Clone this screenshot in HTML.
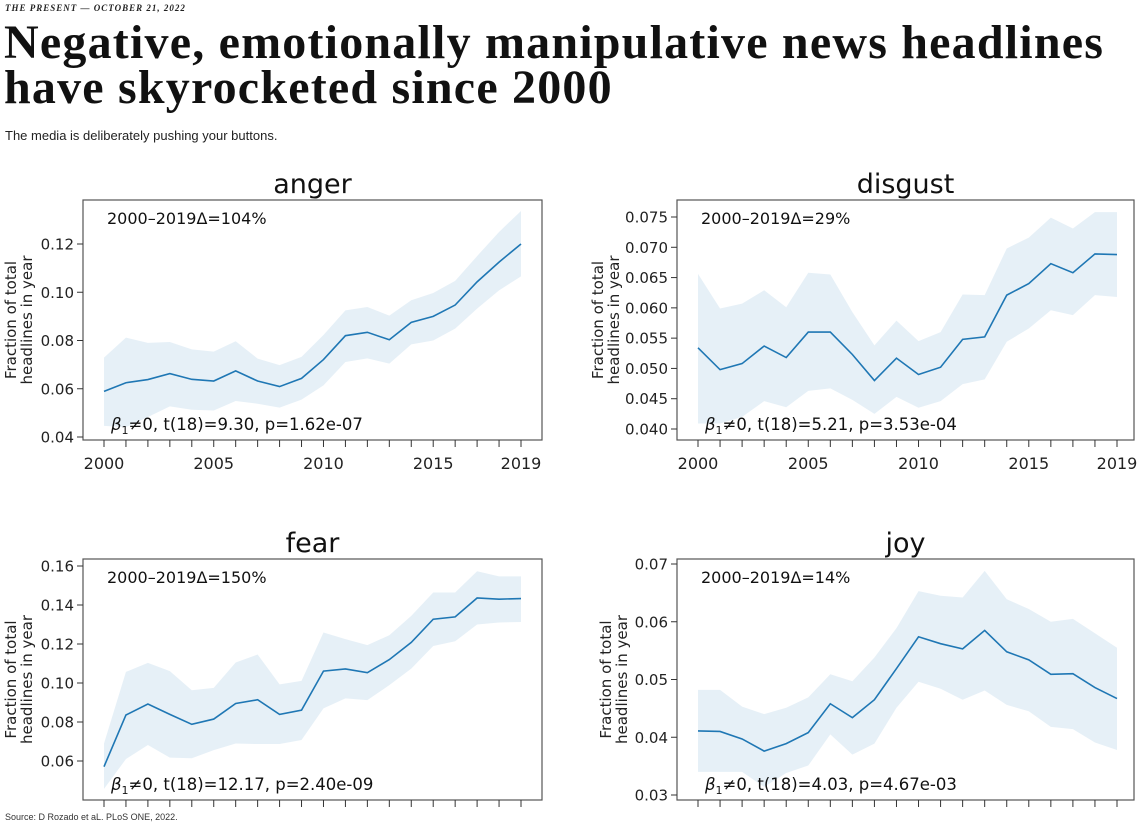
<!DOCTYPE html>
<html><head><meta charset="utf-8">
<style>
body{margin:0;width:1139px;height:824px;background:#fff;overflow:hidden;position:relative;font-family:"Liberation Sans",sans-serif}
#kicker{position:absolute;left:5px;top:3px;font:italic bold 9px "Liberation Serif",serif;letter-spacing:1px;color:#222}
#title{position:absolute;left:4px;top:20px;font:bold 48px/45px "Liberation Serif",serif;color:#111;letter-spacing:1.2px;white-space:nowrap}
#sub{position:absolute;left:5px;top:128px;font-size:13px;color:#222}
#src{position:absolute;left:5px;top:812px;font-size:9px;color:#333}
svg{position:absolute;left:0;top:0}
</style></head><body>
<div id="kicker">THE PRESENT — OCTOBER 21, 2022</div>
<div id="title">Negative, emotionally manipulative news headlines<br>have skyrocketed since 2000</div>
<div id="sub">The media is deliberately pushing your buttons.</div>
<div id="src">Source: D Rozado et aL. PLoS ONE, 2022.</div>
<svg id="chart" width="1139" height="824"></svg>
<script>
const years=[2000,2001,2002,2003,2004,2005,2006,2007,2008,2009,2010,2011,2012,2013,2014,2015,2016,2017,2018,2019];
const angerMean=[0.0589,0.0625,0.0638,0.0663,0.0639,0.0632,0.0674,0.0632,0.0609,0.0643,0.0721,0.082,0.0834,0.0803,0.0875,0.09,0.0947,0.1043,0.1125,0.12];
const angerHi=[0.0729,0.0812,0.079,0.0794,0.0763,0.0754,0.0797,0.0725,0.0698,0.0732,0.0823,0.0925,0.0939,0.0903,0.0967,0.0997,0.1047,0.115,0.125,0.1337];
const angerLo=[0.0446,0.0441,0.0483,0.0527,0.0513,0.051,0.0549,0.0538,0.0522,0.0555,0.0614,0.0711,0.0726,0.0704,0.0784,0.08,0.0849,0.0932,0.1008,0.1066];
const disgustMean=[0.0534,0.0498,0.0508,0.0537,0.0518,0.056,0.056,0.0523,0.048,0.0517,0.049,0.0502,0.0548,0.0552,0.0621,0.064,0.0673,0.0658,0.0689,0.0688];
const disgustHi=[0.0656,0.0599,0.0607,0.0629,0.0601,0.0658,0.0655,0.0593,0.0538,0.0579,0.0545,0.056,0.0622,0.0621,0.0698,0.0716,0.0749,0.0731,0.0758,0.0758];
const disgustLo=[0.0409,0.0409,0.042,0.0446,0.0436,0.0463,0.0467,0.0448,0.0425,0.0453,0.0435,0.0446,0.0474,0.0482,0.0544,0.0566,0.0596,0.0588,0.0621,0.0618];
const fearMean=[0.0571,0.0836,0.0892,0.0839,0.0788,0.0815,0.0895,0.0914,0.0839,0.0861,0.1061,0.1072,0.1053,0.112,0.1208,0.1327,0.1339,0.1436,0.143,0.1433];
const fearHi=[0.069,0.1057,0.1103,0.1061,0.0963,0.0975,0.1105,0.1146,0.0993,0.1011,0.1259,0.1225,0.1194,0.1245,0.1344,0.1464,0.1464,0.1573,0.1547,0.1547];
const fearLo=[0.0457,0.061,0.0682,0.0617,0.0614,0.0656,0.069,0.0687,0.0687,0.0708,0.087,0.0921,0.0912,0.0989,0.1074,0.119,0.1214,0.13,0.131,0.1313];
const joyMean=[0.0411,0.041,0.0397,0.0376,0.0389,0.0408,0.0458,0.0434,0.0465,0.0519,0.0574,0.0562,0.0553,0.0585,0.0548,0.0534,0.0509,0.051,0.0486,0.0467];
const joyHi=[0.0482,0.0482,0.0453,0.044,0.0451,0.0469,0.0509,0.0497,0.0538,0.0589,0.0653,0.0645,0.0642,0.0688,0.0639,0.0622,0.06,0.0605,0.058,0.0555];
const joyLo=[0.034,0.034,0.034,0.0314,0.0338,0.0351,0.0405,0.037,0.0389,0.0451,0.0496,0.0484,0.0465,0.0481,0.0456,0.0445,0.0418,0.0414,0.0391,0.0378];
const angerTicks=["0.04","0.06","0.08","0.10","0.12"];
const disgustTicks=["0.040","0.045","0.050","0.055","0.060","0.065","0.070","0.075"];
const fearTicks=["0.06","0.08","0.10","0.12","0.14","0.16"];
const joyTicks=["0.03","0.04","0.05","0.06","0.07"];
const xTickLabels=["2000","2005","2010","2015","2019"];

const NS="http://www.w3.org/2000/svg";
const svg=document.getElementById('chart');
function mk(tag,attrs,parent,text){const e=document.createElementNS(NS,tag);for(const k in attrs)e.setAttribute(k,attrs[k]);if(text!==undefined)e.textContent=text;parent.appendChild(e);return e;}

function panel(cfg){
  const g=mk('g',{},svg);
  
  
  const x=yr=>cfg.x0+(yr-2000)/19*(cfg.x1-cfg.x0);
  const y=v=>cfg.yA+(v-cfg.vA)/(cfg.vB-cfg.vA)*(cfg.yB-cfg.yA);
  let d='';
  years.forEach((yr,i)=>{d+=(i?'L':'M')+x(yr)+','+y(cfg.hi[i]);});
  for(let i=years.length-1;i>=0;i--)d+='L'+x(years[i])+','+y(cfg.lo[i]);
  const band=mk('path',{d:d+'Z',fill:'#1f77b4','fill-opacity':0.11,stroke:'none'},g);
  
  
  let ld='';years.forEach((yr,i)=>{ld+=(i?'L':'M')+x(yr)+','+y(cfg.mean[i]);});
  const line=mk('path',{d:ld,fill:'none',stroke:'#1f77b4','stroke-width':1.6},g);
  
  
  const box=mk('rect',{x:cfg.L,y:cfg.T,width:cfg.R-cfg.L,height:cfg.B-cfg.T,fill:'none',stroke:'#555','stroke-width':1.2},g);
  
  
  const ttl=mk('text',{x:(cfg.L+cfg.R)/2,y:cfg.T-7,'text-anchor':'middle','font-family':'DejaVu Sans, sans-serif','font-size':27,fill:'#111'},g,cfg.name);
  
  
  cfg.ticks.forEach(t=>{
    const yy=y(parseFloat(t));
    mk('line',{x1:cfg.L-6,x2:cfg.L,y1:yy,y2:yy,stroke:'#333'},g);
    const tl=mk('text',{x:cfg.L-9,y:yy+5.5,'text-anchor':'end','font-family':'DejaVu Sans, sans-serif','font-size':15,fill:'#222'},g,t);
    
    
  });
  years.forEach(yr=>{mk('line',{x1:x(yr),x2:x(yr),y1:cfg.B,y2:cfg.B+7,stroke:'#333'},g);});
  if(cfg.xlabels){xTickLabels.forEach(t=>{
    const xl=mk('text',{x:x(+t),y:cfg.B+29,'text-anchor':'middle','font-family':'DejaVu Sans, sans-serif','font-size':16,fill:'#222'},g,t);
    
    
  });}
  const cy=(cfg.T+cfg.B)/2;
  const yl=mk('text',{transform:`translate(${cfg.ylx},${cy}) rotate(-90)`,'text-anchor':'middle','font-family':'DejaVu Sans, sans-serif','font-size':15,fill:'#222'},g);
  
  
  mk('tspan',{x:0,dy:0},yl,'Fraction of total');
  mk('tspan',{x:0,dy:16},yl,'headlines in year');
  const a1=mk('text',{x:cfg.L+24,y:cfg.T+24,'font-family':'DejaVu Sans, sans-serif','font-size':16,fill:'#111'},g,cfg.delta);
  
  
  const a2=mk('text',{x:cfg.L+28,y:cfg.B-10,'font-family':'DejaVu Sans, sans-serif','font-size':16.5,fill:'#111'},g);
  
  
  mk('tspan',{'font-style':'italic'},a2,'β');
  mk('tspan',{'font-size':11,dy:4},a2,'1');
  mk('tspan',{dy:-4},a2,cfg.stats);
}
panel({name:'anger',L:83,R:542,T:200,B:440,x0:104,x1:521,yA:437,vA:0.04,yB:244,vB:0.12,mean:angerMean,hi:angerHi,lo:angerLo,ticks:angerTicks,xlabels:true,ylx:16,delta:'2000–2019Δ=104%',stats:'≠0, t(18)=9.30, p=1.62e-07'});
panel({name:'disgust',L:677,R:1134,T:200,B:440,x0:698,x1:1117,yA:429,vA:0.04,yB:217,vB:0.075,mean:disgustMean,hi:disgustHi,lo:disgustLo,ticks:disgustTicks,xlabels:true,ylx:603,delta:'2000–2019Δ=29%',stats:'≠0, t(18)=5.21, p=3.53e-04'});
panel({name:'fear',L:83,R:542,T:559,B:800,x0:104,x1:521,yA:761,vA:0.06,yB:566,vB:0.16,mean:fearMean,hi:fearHi,lo:fearLo,ticks:fearTicks,xlabels:false,ylx:16,delta:'2000–2019Δ=150%',stats:'≠0, t(18)=12.17, p=2.40e-09'});
panel({name:'joy',L:677,R:1134,T:559,B:800,x0:698,x1:1117,yA:795,vA:0.03,yB:564,vB:0.07,mean:joyMean,hi:joyHi,lo:joyLo,ticks:joyTicks,xlabels:false,ylx:611,delta:'2000–2019Δ=14%',stats:'≠0, t(18)=4.03, p=4.67e-03'});
</script>
</body></html>
